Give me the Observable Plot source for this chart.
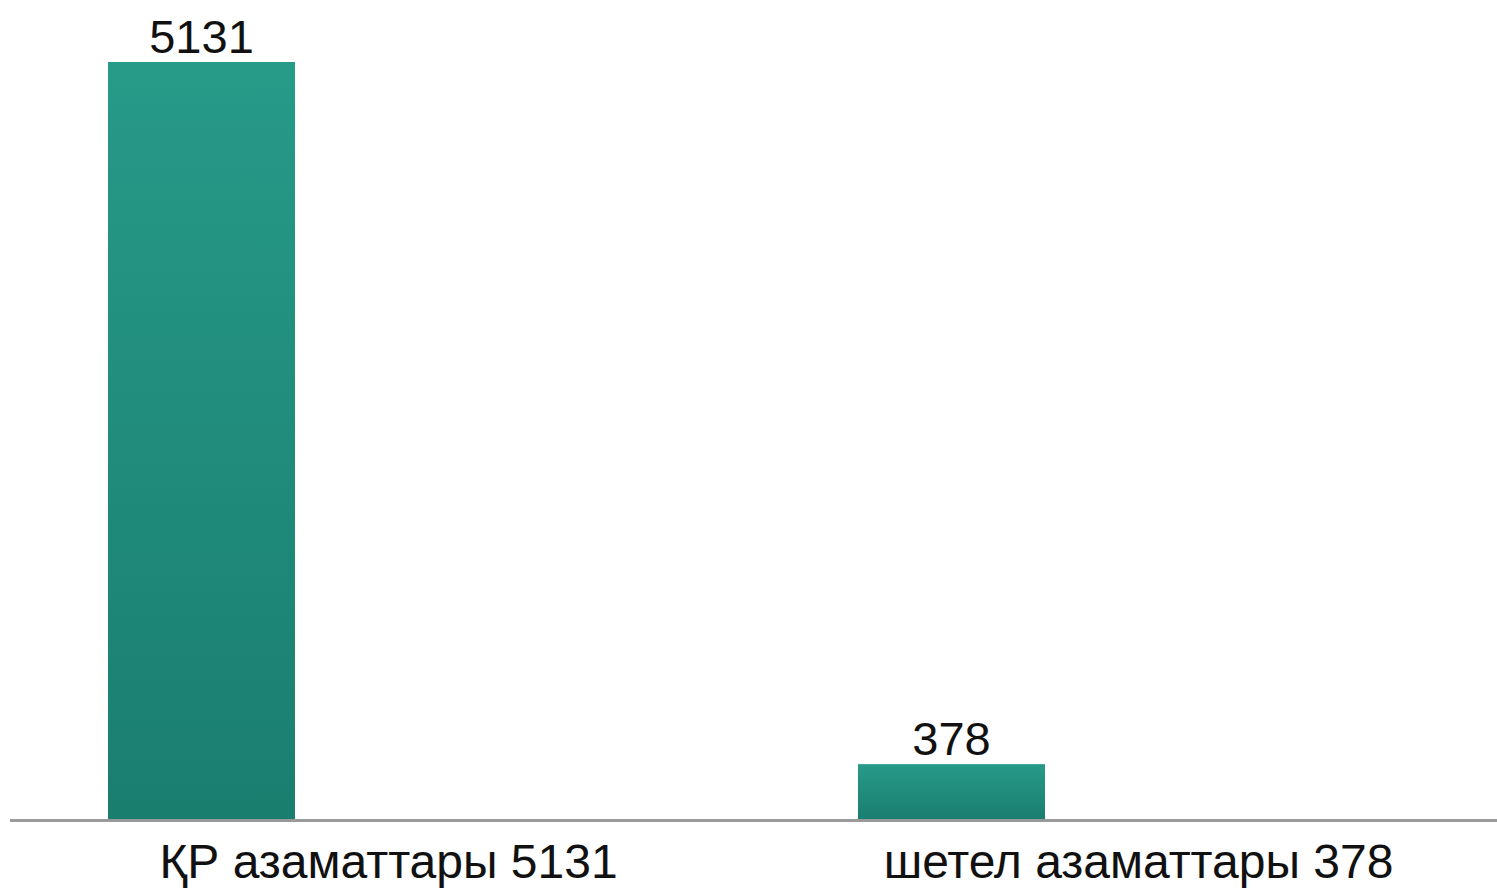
<!DOCTYPE html>
<html>
<head>
<meta charset="utf-8">
<script src="https://cdn.jsdelivr.net/npm/d3@7"></script>
<script src="https://cdn.jsdelivr.net/npm/@observablehq/plot@0.6"></script>
<style>
  html, body { margin: 0; padding: 0; background: #fff; }
  #chart svg { display: block; }
</style>
</head>
<body>
<div id="chart"></div>
<script>
const categories = ["ҚР азаматтары", "шетел азаматтары"];
const values = [5131, 378];
const tickLabels = ["ҚР азаматтары 5131", "шетел азаматтары 378"];

const data = categories.map((c, i) => ({category: c, value: values[i]}));

const defs = () => {
  const d = d3.create("svg:defs");
  const g = d.append("linearGradient")
    .attr("id", "barGrad")
    .attr("x1", 0).attr("y1", 0).attr("x2", 0).attr("y2", 1);
  g.append("stop").attr("offset", "0%").attr("stop-color", "#279a88");
  g.append("stop").attr("offset", "100%").attr("stop-color", "#1a7e6f");
  return d.node();
};

const chart = Plot.plot({
  width: 1497,
  height: 888,
  marginTop: 62,
  marginBottom: 68,
  marginLeft: 10,
  marginRight: 0,
  style: {fontFamily: "'Liberation Sans', Arial, sans-serif", color: "#000", background: "#fff"},
  x: {domain: categories, range: [12, 1513], padding: 0, label: null},
  y: {domain: [0, 5131], axis: null},
  marks: [
    defs,
    Plot.barY(data, {
      x: "category", y: "value", fill: "url(#barGrad)",
      insetLeft: 95, insetRight: 468
    }),
    Plot.ruleY([0], {stroke: "#9a9a9a", strokeWidth: 3}),
    Plot.text(data, {
      x: "category", y: "value", text: d => String(d.value),
      dx: -187, dy: -10, lineAnchor: "bottom",
      fontSize: 47, fill: "#111"
    }),
    Plot.axisX({
      tickSize: 0, tickPadding: 23, fontSize: 48, fill: "#111",
      tickFormat: (d) => tickLabels[categories.indexOf(d)]
    })
  ]
});

document.getElementById("chart").appendChild(chart);
</script>
</body>
</html>
